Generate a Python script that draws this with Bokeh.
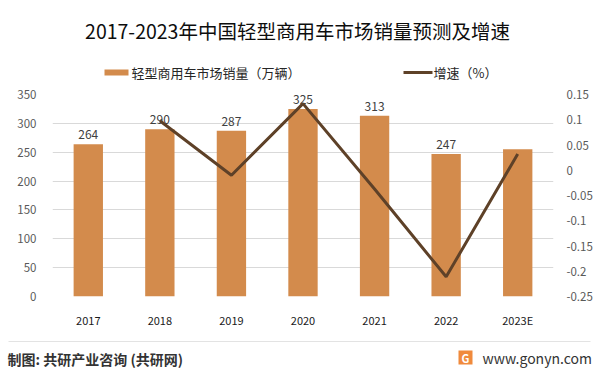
from bokeh.plotting import figure
from bokeh.models import (ColumnDataSource, LinearAxis, Range1d, FactorRange,
                          FixedTicker)
from bokeh.layouts import column
from bokeh.core.properties import value
from bokeh.embed import file_html
from bokeh.resources import INLINE

years = ["2017", "2018", "2019", "2020", "2021", "2022", "2023E"]
sales = [264, 290, 287, 325, 313, 247, 255]
sales_labels = ["264", "290", "287", "325", "313", "247", ""]
growth_years = ["2018", "2019", "2020", "2021", "2022", "2023E"]
growth = [0.098, -0.010, 0.132, -0.037, -0.211, 0.032]
left_ticks = [0, 50, 100, 150, 200, 250, 300, 350]
right_ticks = [-0.25, -0.2, -0.15, -0.1, -0.05, 0, 0.05, 0.1, 0.15]
right_tick_labels = ["-0.25", "-0.2", "-0.15", "-0.1", "-0.05", "0",
                     "0.05", "0.1", "0.15"]

title_text = "2017-2023年中国轻型商用车市场销量预测及增速"
legend_bar = "轻型商用车市场销量（万辆）"
legend_line = "增速（%）"
footer_left = "制图: 共研产业咨询 (共研网)"
footer_right = "www.gonyn.com"

FONT = "Noto Sans CJK SC"
BAR = "#d38b4c"
LINE = "#5e4128"
W = 599
TOP_H = 84
CH_H = 246
FOOT_H = 42


def blank(h, y0):
    f = figure(width=W, height=h, output_backend="svg", toolbar_location=None,
               x_range=Range1d(0, W), y_range=Range1d(y0 + h, y0),
               x_axis_location=None, y_axis_location=None,
               min_border=0, outline_line_color=None, frame_align=False,
               background_fill_color="white", border_fill_color="white")
    f.grid.visible = False
    return f


# ---- header (title + legend), page coords
top = blank(TOP_H, 0)
top.text(x=[297], y=[30], text=[title_text], text_align="center",
         text_baseline="middle", text_font=value(FONT),
         text_font_size="19.5px", text_color="#0d0d0d")
top.quad(left=[104], right=[128], top=[69], bottom=[75], fill_color=BAR,
         line_color=None)
top.text(x=[131], y=[72], text=[legend_bar], text_baseline="middle",
         text_font=value(FONT), text_font_size="13px", text_color="#262626")
top.line(x=[403, 432], y=[72, 72], line_color=LINE, line_width=3)
top.text(x=[433], y=[72], text=[legend_line], text_baseline="middle",
         text_font=value(FONT), text_font_size="13px", text_color="#262626")

# ---- chart
p = figure(width=W, height=CH_H, output_backend="svg", toolbar_location=None,
           x_range=FactorRange(*years, range_padding=0),
           y_range=Range1d(0, 350), frame_align=False,
           min_border_left=52, min_border_right=46, min_border_top=10,
           min_border_bottom=32, outline_line_color=None,
           background_fill_color="white", border_fill_color="white")
p.extra_y_ranges = {"g": Range1d(-0.25, 0.15)}

src = ColumnDataSource(dict(x=years, y=sales, lab=sales_labels))
p.vbar(x="x", top="y", width=0.41, source=src, fill_color=BAR, line_color=None)
p.text(x="x", y="y", text="lab", source=src, text_align="center",
       text_baseline="bottom", y_offset=-5, text_font=value(FONT),
       text_font_size="12px", text_color="#404040")

gsrc = ColumnDataSource(dict(x=growth_years, y=growth))
p.line(x="x", y="y", source=gsrc, y_range_name="g", line_color=LINE,
       line_width=3)

p.xgrid.visible = False
p.ygrid.grid_line_color = "#d9d9d9"
p.ygrid.grid_line_width = 1
p.yaxis.ticker = FixedTicker(ticks=left_ticks)
for ax in [p.yaxis[0], p.xaxis[0]]:
    ax.axis_line_color = None
    ax.major_tick_line_color = None
    ax.minor_tick_line_color = None
    ax.major_label_text_font = FONT
p.yaxis.major_label_text_font_size = "11.5px"
p.yaxis.major_label_text_color = "#595959"
p.yaxis.major_label_standoff = 10
p.xaxis.major_label_text_font_size = "11px"
p.xaxis.major_label_text_color = "#1a1a1a"
p.xaxis.major_label_standoff = 9

rax = LinearAxis(y_range_name="g", ticker=FixedTicker(ticks=right_ticks))
rax.axis_line_color = None
rax.major_tick_line_color = None
rax.minor_tick_line_color = None
rax.major_label_text_font = FONT
rax.major_label_text_font_size = "11.5px"
rax.major_label_text_color = "#595959"
rax.major_label_standoff = 7
rax.major_label_overrides = dict(zip(right_ticks, right_tick_labels))
p.add_layout(rax, "right")

# ---- footer, page coords
foot = blank(FOOT_H, TOP_H + CH_H)
foot.line(x=[8, 590], y=[341, 341], line_color="#e3e3e3", line_width=1)
foot.text(x=[7], y=[358], text=[footer_left], text_baseline="middle",
          text_font=value(FONT), text_font_size="14px",
          text_font_style="bold", text_color="#333333")
foot.quad(left=[458], right=[472], top=[350], bottom=[364],
          fill_color="#f08a3c", line_color=None)
foot.text(x=[465], y=[357.5], text=["G"], text_align="center",
          text_baseline="middle", text_font=value(FONT),
          text_font_size="11px", text_font_style="bold", text_color="white")
foot.text(x=[482], y=[357], text=[footer_right], text_baseline="middle",
          text_font=value(FONT), text_font_size="14px", text_color="#333333")

layout = column(top, p, foot, spacing=0)
open("out.html", "w").write(file_html(layout, INLINE))
